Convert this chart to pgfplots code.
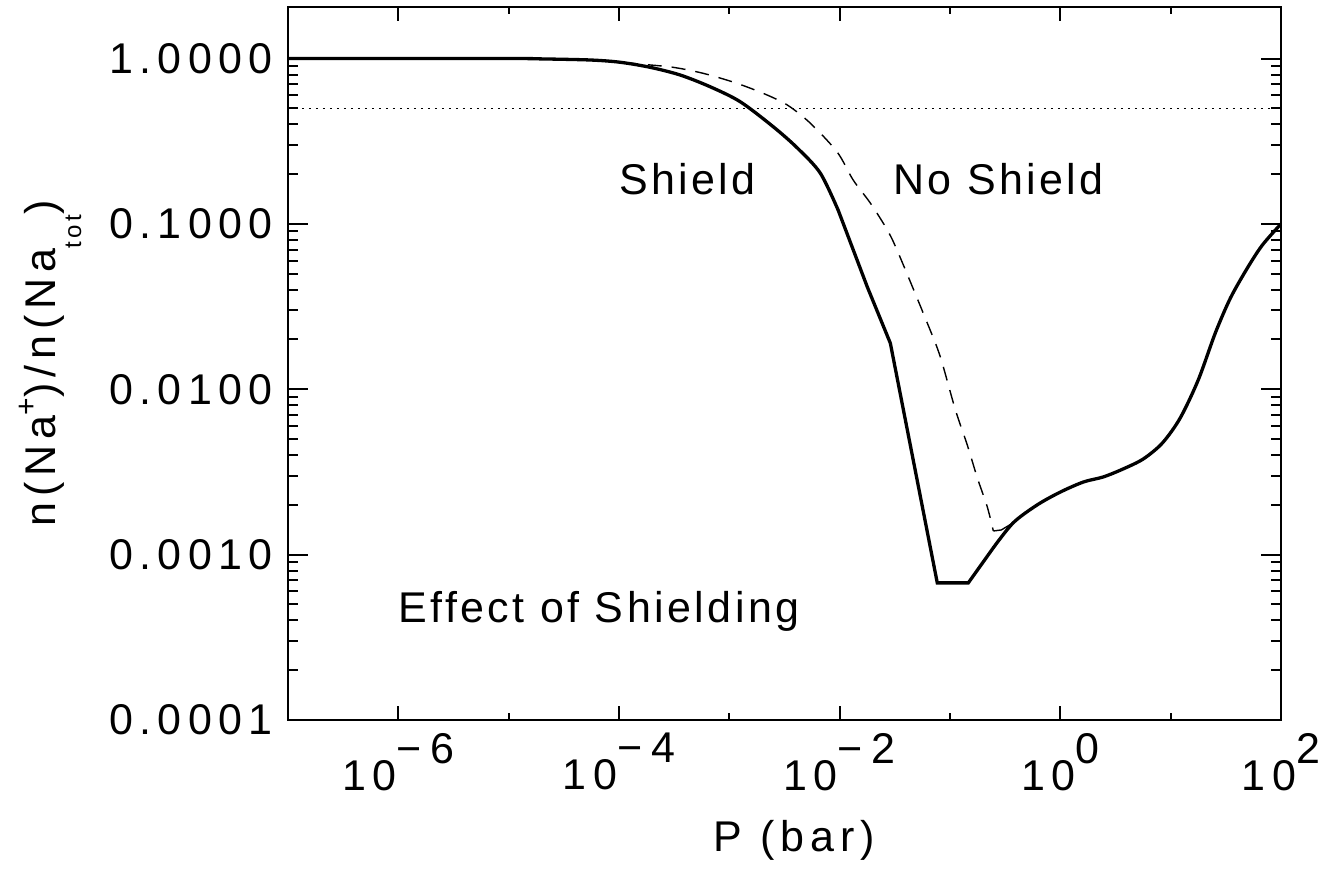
\documentclass[border=0pt]{standalone}
\usepackage{fontspec}
\setmainfont{Liberation Sans}[LetterSpace=8]
\newfontfamily\widefont{Liberation Sans}[LetterSpace=15]
\newfontfamily\labfont{Liberation Sans}[LetterSpace=14]
\usepackage{pgfplots}
\pgfplotsset{compat=1.18}

% IDL style 10^n label: exponent set at full size, raised
\newcommand\tenpow[1]{10\raisebox{27pt}{#1}}

\begin{document}
\fontsize{43}{50}\selectfont
\begin{tikzpicture}
% x ticks (shorter)
\begin{axis}[name=ax,
  xmode=log, ymode=log,
  scale only axis, width=993pt, height=713pt,
  xmin=1e-7, xmax=1e2, ymin=1e-4, ymax=2.05,
  axis line style={line width=2pt},
  tick style={line width=2pt, black},
  tick align=inside,
  xtick={1e-6,1e-4,1e-2,1,1e2},
  minor xtick={1e-5,1e-3,1e-1,1e1},
  xticklabels={\tenpow{−\kern9pt 6},\tenpow{−\kern9pt 4},\tenpow{−\kern9pt 2},\tenpow{0},\tenpow{2}},
  xticklabel style={font=\widefont, anchor=north, inner sep=0pt, yshift=-13pt},
  ytick=\empty,
  major tick length=14pt, minor tick length=7pt,
  xlabel={P (bar)},
  xlabel style={font=\labfont, at={(axis description cs:0.51,0)}, anchor=base, yshift=-132pt},
]
\end{axis}
% y ticks, data, notes
\begin{axis}[
  xmode=log, ymode=log,
  scale only axis, width=993pt, height=713pt,
  xmin=1e-7, xmax=1e2, ymin=1e-4, ymax=2.05,
  axis line style={line width=2pt},
  tick style={line width=2pt, black},
  tick align=inside,
  xtick=\empty,
  ytick={1e-4,1e-3,1e-2,1e-1,1},
  yticklabels={0.0001,0.0010,0.0100,0.1000,1.0000},
  minor ytick={2e-4,3e-4,4e-4,5e-4,6e-4,7e-4,8e-4,9e-4,
               2e-3,3e-3,4e-3,5e-3,6e-3,7e-3,8e-3,9e-3,
               0.02,0.03,0.04,0.05,0.06,0.07,0.08,0.09,
               0.2,0.3,0.4,0.5,0.6,0.7,0.8,0.9},
  yticklabel style={font=\widefont, anchor=east, inner sep=0pt, xshift=-15pt},
  major tick length=20pt, minor tick length=10pt,
  ylabel={n(Na\raisebox{19pt}{\fontsize{30}{30}\selectfont +})/n(Na\raisebox{-26pt}{\fontsize{24}{24}\selectfont tot})},
  ylabel style={font=\labfont, at={(axis description cs:-0.2346,0.50)}, anchor=base},
]
% half-ionisation level
\addplot[black, line width=1.6pt, dash pattern=on 1.8pt off 5.2pt] coordinates {(1e-7,0.5)(1e2,0.5)};

% no shielding
\addplot[black, line width=1.4pt, dash pattern=on 14pt off 10pt, smooth, tension=0.5] coordinates {
(1e-7,1.0)(1e-5,1.0)(2e-5,0.995)(5.5e-5,0.98)(1.02e-4,0.95)(1.55e-4,0.926)(3.1e-4,0.885)
(5.8e-4,0.814)(1.13e-3,0.714)(2.03e-3,0.616)(3.35e-3,0.524)(5.41e-3,0.407)(9.5e-3,0.272)
(0.01328,0.184)(0.01892,0.134)(0.027,0.092)(0.034,0.0667)(0.0622,0.0252)(0.0817,0.0157)
(0.112,7.5e-3)(0.1435,4.6e-3)(0.177,2.91e-3)(0.218,1.94e-3)(0.247,1.39e-3)
};
\addplot[black, line width=1.4pt] coordinates {(0.247,1.39e-3)(0.292,1.41e-3)(0.375,1.56e-3)};

% shielded
\addplot[black, line width=3.3pt, line cap=round, smooth, tension=0.5] coordinates {
(1e-7,1.0)(1e-5,1.0)(2e-5,0.995)(5.5e-5,0.98)(1.02e-4,0.95)(1.92e-4,0.885)(3.59e-4,0.795)
(6.71e-4,0.675)(1.256e-3,0.548)(2.5e-3,0.387)(4.13e-3,0.288)(6.67e-3,0.203)(9.7e-3,0.121)
};
\addplot[black, line width=3.3pt, line cap=round] coordinates {
(9.7e-3,0.121)(0.0178,0.0416)(0.0288,0.019)(0.0767,6.75e-4)(0.1466,6.75e-4)(0.247,1.10e-3)
};
\addplot[black, line width=3.3pt, line cap=round, smooth, tension=0.5] coordinates {
(0.247,1.10e-3)(0.375,1.56e-3)
(0.618,2.0e-3)(1.0,2.39e-3)(1.62,2.75e-3)(2.45,2.95e-3)(3.72,3.30e-3)(5.65,3.79e-3)
(8.41,4.73e-3)(12.2,6.70e-3)(17.8,0.0114)(25.4,0.0219)(34.8,0.0356)(49.5,0.054)(67.8,0.0745)(100,0.1)
};

\node[anchor=base west, inner sep=0pt] at (axis cs:1e-4,0.15) {Shield};
\node[anchor=base west, inner sep=0pt] at (axis cs:3.06e-2,0.15) {No Shield};
\node[anchor=base west, inner sep=0pt] at (axis cs:1e-6,3.9e-4) {Effect of Shielding};
\end{axis}
\pgfresetboundingbox
\path[use as bounding box] ([xshift=-288pt,yshift=-149pt]ax.south west) rectangle ([xshift=60pt,yshift=7pt]ax.north east);
\end{tikzpicture}
\end{document}
